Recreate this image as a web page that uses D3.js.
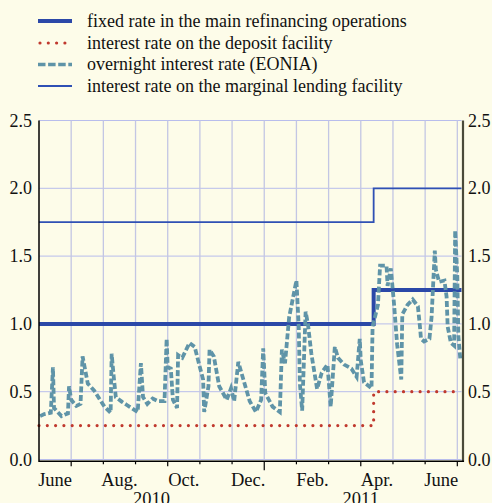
<!DOCTYPE html>
<html><head><meta charset="utf-8">
<script src="https://cdn.jsdelivr.net/npm/d3@7"></script>
<style>html,body{margin:0;padding:0;background:#fdfce9;} svg{display:block;}</style>
</head><body><svg id="c" width="492" height="503"></svg>
<script>
// ---------- data ----------
const seriesNames = [
  "fixed rate in the main refinancing operations",
  "interest rate on the deposit facility",
  "overnight interest rate (EONIA)",
  "interest rate on the marginal lending facility"
];
const yTicks = [0, 0.5, 1, 1.5, 2, 2.5];
const yTickLabels = ["0.0", "0.5", "1.0", "1.5", "2.0", "2.5"];
const monthLabels = ["June", "Aug.", "Oct.", "Dec.", "Feb.", "Apr.", "June"];
const monthLabelDates = ["2010-06-01", "2010-08-01", "2010-10-01", "2010-12-01", "2011-02-01", "2011-04-01", "2011-06-01"];
const yearLabels = ["2010", "2011"];
const yearLabelPos = [3.5, 10];           // centre, in months from June 2010
const policyDates = ["2010-06-01", "2011-04-13", "2011-07-05"];
const mroRates = [1.00, 1.25, 1.25];
const depositRates = [0.25, 0.50, 0.50];
const marginalRates = [1.75, 2.00, 2.00];
const eoniaDates = [
  "2010-06-02","2010-06-06","2010-06-12","2010-06-14","2010-06-15","2010-06-22","2010-06-28","2010-06-29",
  "2010-07-01","2010-07-06","2010-07-10","2010-07-12","2010-07-17","2010-07-23","2010-07-28",
  "2010-08-02","2010-08-08","2010-08-09","2010-08-11","2010-08-13","2010-08-19","2010-08-24","2010-08-26",
  "2010-09-03","2010-09-06","2010-09-08","2010-09-12","2010-09-17","2010-09-22","2010-09-28","2010-09-30",
  "2010-10-01","2010-10-04","2010-10-06","2010-10-10","2010-10-11","2010-10-15","2010-10-22","2010-10-27",
  "2010-11-01","2010-11-04","2010-11-05","2010-11-09","2010-11-10","2010-11-14","2010-11-19","2010-11-26","2010-11-30",
  "2010-12-03","2010-12-07","2010-12-10","2010-12-18","2010-12-24","2010-12-29","2010-12-31",
  "2011-01-02","2011-01-09","2011-01-16","2011-01-18","2011-01-21","2011-01-25",
  "2011-02-01","2011-02-03","2011-02-04","2011-02-06","2011-02-09","2011-02-11","2011-02-14","2011-02-19","2011-02-23","2011-02-28",
  "2011-03-03","2011-03-07","2011-03-10","2011-03-16","2011-03-23","2011-03-28","2011-03-31",
  "2011-04-01","2011-04-04","2011-04-11","2011-04-12","2011-04-17","2011-04-19","2011-04-25","2011-04-26","2011-04-29",
  "2011-05-02","2011-05-05","2011-05-09","2011-05-10","2011-05-15","2011-05-20","2011-05-25","2011-05-27","2011-05-28","2011-05-31",
  "2011-06-05","2011-06-07","2011-06-10","2011-06-11","2011-06-14","2011-06-19","2011-06-21","2011-06-22","2011-06-25","2011-06-28","2011-06-29",
  "2011-07-01","2011-07-02","2011-07-04"
];
const eoniaValues = [
  0.32,0.335,0.345,0.68,0.38,0.32,0.34,0.54,
  0.44,0.395,0.41,0.76,0.56,0.51,0.45,
  0.39,0.345,0.78,0.61,0.46,0.425,0.40,0.39,
  0.35,0.71,0.46,0.41,0.45,0.43,0.43,0.89,
  0.68,0.67,0.44,0.38,0.77,0.75,0.86,0.83,
  0.68,0.59,0.35,0.54,0.81,0.76,0.54,0.44,0.525,
  0.43,0.72,0.64,0.43,0.35,0.44,0.82,
  0.49,0.39,0.35,0.81,0.71,1.05,
  1.32,0.98,0.56,0.36,1.09,1.00,0.78,0.52,0.64,0.70,
  0.39,0.83,0.75,0.70,0.67,0.61,0.89,
  0.73,0.57,0.525,0.98,1.14,1.43,1.43,1.28,1.41,
  1.15,0.85,0.59,1.07,1.14,1.18,1.13,0.98,0.89,0.87,
  0.89,1.05,1.54,1.40,1.31,1.32,1.20,0.98,0.86,0.84,1.69,
  1.35,0.91,0.73
];

// ---------- helpers ----------
// months elapsed since 1 June 2010 (month boundaries equally spaced as in the original)
function monthPos(s) {
  const [y, m, d] = s.split("-").map(Number);
  const idx = (y - 2010) * 12 + (m - 6);
  const dim = new Date(y, m, 0).getDate();
  return idx + (d - 1) / dim;
}

const svg = d3.select("#c");
const W = 492, H = 503;
svg.append("rect").attr("width", W).attr("height", H).attr("fill", "#fdfce9");

const x = d3.scaleLinear().domain([0, 13.13]).range([39, 461.5]);
const y = d3.scaleLinear().domain([0, 2.5]).range([459.5, 120.5]);
const font = "'Liberation Serif','Times New Roman',serif";

// ---------- grid ----------
const g = svg.append("g");
g.selectAll("line.h").data(yTicks).enter().append("line")
  .attr("x1", x(0)).attr("x2", x(13.13)).attr("y1", d => y(d)).attr("y2", d => y(d))
  .attr("stroke", "#b8bdec").attr("stroke-width", 1);
const monthIdx = d3.range(1, 14);
g.selectAll("line.v").data(monthIdx).enter().append("line")
  .attr("x1", d => x(d)).attr("x2", d => x(d)).attr("y1", y(2.5)).attr("y2", y(0))
  .attr("stroke", "#c3c6e4").attr("stroke-width", 1.3);

// ---------- lines ----------
const step = d3.line().curve(d3.curveStepAfter).x(d => x(monthPos(d[0]))).y(d => y(d[1]));
const plain = d3.line().x(d => x(monthPos(d[0]))).y(d => y(d[1]));

const mroData = policyDates.map((d, i) => [d, mroRates[i]]);
const depData = policyDates.map((d, i) => [d, depositRates[i]]);
const mlfData = policyDates.map((d, i) => [d, marginalRates[i]]);
const eoData = eoniaDates.map((d, i) => [d, eoniaValues[i]]);

const colMRO = "#2b48a8", colDep = "#c0392e", colEo = "#5f94a8", colMLF = "#2f50b4";

svg.append("path").attr("d", step(mlfData)).attr("fill", "none")
  .attr("stroke", colMLF).attr("stroke-width", 1.8);
svg.append("path").attr("d", step(mroData)).attr("fill", "none")
  .attr("stroke", colMRO).attr("stroke-width", 4);
svg.append("path").attr("d", step(depData)).attr("fill", "none")
  .attr("stroke", colDep).attr("stroke-width", 3.2)
  .attr("stroke-linecap", "round").attr("stroke-dasharray", "0 8.3");
svg.append("path").attr("d", plain(eoData)).attr("fill", "none")
  .attr("stroke", colEo).attr("stroke-width", 3.8)
  .attr("stroke-dasharray", "6 2.6");

// ---------- axes ----------
const ax = svg.append("g");
ax.append("line").attr("x1", x(0)).attr("x2", x(0)).attr("y1", y(2.5)).attr("y2", y(0) + 2.5)
  .attr("stroke", "#000").attr("stroke-width", 1.5);
ax.append("line").attr("x1", x(13.13) + 1.5).attr("x2", x(13.13) + 1.5).attr("y1", y(2.5)).attr("y2", y(0) + 2.5)
  .attr("stroke", "#4a4a3a").attr("stroke-width", 2.2);
ax.append("line").attr("x1", x(0)).attr("x2", x(13.13) + 2.5).attr("y1", y(0) + 1.8).attr("y2", y(0) + 1.8)
  .attr("stroke", "#000").attr("stroke-width", 1.5);
ax.selectAll("line.t").data(monthIdx).enter().append("line")
  .attr("x1", d => x(d)).attr("x2", d => x(d))
  .attr("y1", y(0) + 1.8)
  .attr("y2", d => y(0) + 1.8 + (d === 7 ? 9 : (d % 3 === 1 ? 5 : 3)))
  .attr("stroke", "#000").attr("stroke-width", 1.2);

// y labels
ax.selectAll("text.yl").data(yTicks).enter().append("text")
  .attr("x", 32).attr("y", d => y(d) + 6).attr("text-anchor", "end")
  .attr("font-family", font).attr("font-size", 18).attr("fill", "#111")
  .text((d, i) => yTickLabels[i]);
ax.selectAll("text.yr").data(yTicks).enter().append("text")
  .attr("x", 468).attr("y", d => y(d) + 6).attr("text-anchor", "start")
  .attr("font-family", font).attr("font-size", 18).attr("fill", "#111")
  .text((d, i) => yTickLabels[i]);

// month labels centred in the month
ax.selectAll("text.m").data(monthLabelDates).enter().append("text")
  .attr("x", d => x(monthPos(d) + 0.5)).attr("y", 486).attr("text-anchor", "middle")
  .attr("font-family", font).attr("font-size", 18.5).attr("fill", "#111")
  .text((d, i) => monthLabels[i]);
ax.selectAll("text.yr2").data(yearLabels).enter().append("text")
  .attr("x", (d, i) => x(yearLabelPos[i])).attr("y", 505).attr("text-anchor", "middle")
  .attr("font-family", font).attr("font-size", 18.5).attr("fill", "#111")
  .text(d => d);

// ---------- legend ----------
const lg = svg.append("g");
const rowsY = [21, 43, 64.5, 86];
const legStyles = [
  {c: colMRO, w: 4, dash: null, cap: "butt"},
  {c: colDep, w: 3.2, dash: "0 8.3", cap: "round"},
  {c: colEo, w: 3.6, dash: "7.5 2.6", cap: "butt"},
  {c: colMLF, w: 2, dash: null, cap: "butt"}
];
seriesNames.forEach((name, i) => {
  const st = legStyles[i];
  lg.append("line").attr("x1", i === 1 ? 40 : 38).attr("x2", 72).attr("y1", rowsY[i]).attr("y2", rowsY[i])
    .attr("stroke", st.c).attr("stroke-width", st.w)
    .attr("stroke-dasharray", st.dash).attr("stroke-linecap", st.cap);
  lg.append("text").attr("x", 87).attr("y", rowsY[i] + 5.5)
    .attr("font-family", font).attr("font-size", 18).attr("fill", "#111")
    .text(name);
});
</script></body></html>
